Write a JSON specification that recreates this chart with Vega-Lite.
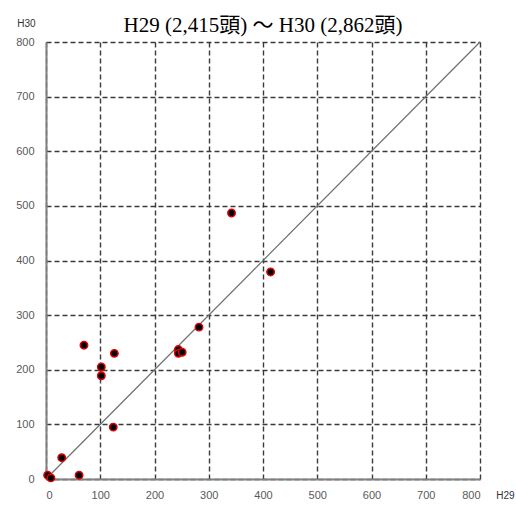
{
  "$schema": "https://vega.github.io/schema/vega-lite/v6.json",
  "width": 434,
  "height": 437,
  "autosize": "none",
  "padding": {"left": 46, "top": 42, "right": 36, "bottom": 27},
  "background": "white",
  "title": {
    "text": "H29 (2,415頭) ～ H30 (2,862頭)",
    "font": "Liberation Serif, Noto Sans CJK JP",
    "fontSize": 21,
    "fontWeight": "normal",
    "color": "#000000",
    "anchor": "middle",
    "frame": "group",
    "baseline": "alphabetic",
    "offset": 11,
    "dy": 46
  },
  "datasets": {
    "pts": [
      {"H29": 3, "H30": 7},
      {"H29": 9, "H30": 2},
      {"H29": 29, "H30": 39},
      {"H29": 61, "H30": 7},
      {"H29": 70, "H30": 245},
      {"H29": 102, "H30": 205},
      {"H29": 102, "H30": 189},
      {"H29": 126, "H30": 230},
      {"H29": 124, "H30": 95},
      {"H29": 244, "H30": 237},
      {"H29": 244, "H30": 230},
      {"H29": 251, "H30": 232},
      {"H29": 282, "H30": 278},
      {"H29": 342, "H30": 487},
      {"H29": 414, "H30": 379}
    ],
    "diag": [
      {"H29": 0, "H30": 0},
      {"H29": 800, "H30": 800}
    ]
  },
  "config": {
    "view": {"stroke": null},
    "axis": {
      "labelFont": "Liberation Sans",
      "labelFontSize": 11,
      "labelColor": "#595959",
      "titleFont": "Liberation Sans",
      "titleFontSize": 10,
      "titleFontWeight": "normal",
      "titleColor": "#333333",
      "ticks": false,
      "domainColor": "#808080",
      "domainWidth": 2,
      "grid": true,
      "gridColor": "#3a3a3a",
      "gridDash": [5, 3],
      "gridWidth": 1.4,
      "gridOpacity": 1
    }
  },
  "layer": [
    {
      "data": {"name": "diag"},
      "mark": {"type": "line", "color": "#6e6e6e", "strokeWidth": 1.2},
      "encoding": {
        "x": {
          "field": "H29", "type": "quantitative",
          "scale": {"domain": [0, 800], "nice": false},
          "axis": {
            "values": [0, 100, 200, 300, 400, 500, 600, 700, 800],
            "title": "H29",
            "titleX": 459, "titleY": 16,
            "titleAlign": "center", "titleBaseline": "middle",
            "labelPadding": 10
          }
        },
        "y": {
          "field": "H30", "type": "quantitative",
          "scale": {"domain": [0, 800], "nice": false},
          "axis": {
            "values": [0, 100, 200, 300, 400, 500, 600, 700, 800],
            "title": "H30",
            "titleAngle": 0,
            "titleX": -20, "titleY": -19,
            "titleAlign": "center", "titleBaseline": "middle",
            "labelPadding": 12
          }
        }
      }
    },
    {
      "data": {"name": "pts"},
      "mark": {"type": "point", "shape": "circle", "filled": true, "fill": "#000000", "stroke": "#e00000", "strokeWidth": 1.5, "opacity": 1, "size": 55},
      "encoding": {
        "x": {"field": "H29", "type": "quantitative"},
        "y": {"field": "H30", "type": "quantitative"}
      }
    }
  ]
}
